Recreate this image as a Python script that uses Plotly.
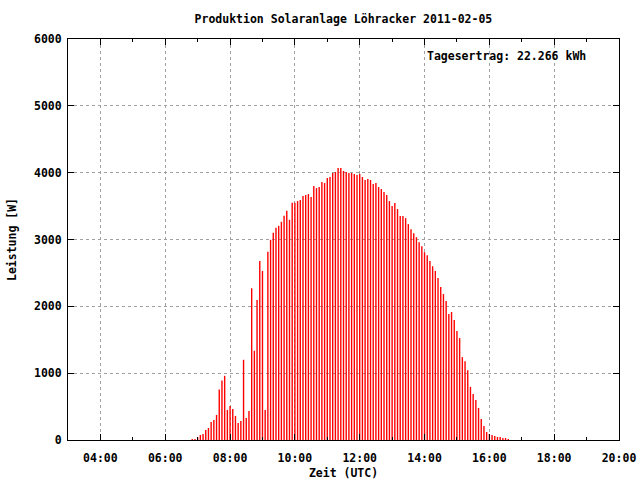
import plotly.graph_objects as go
import pandas as pd

day = "2011-02-05"
start_time = "06:50"
interval_min = 5
power_w = [
    15, 15, 45, 75, 90, 150, 180, 270, 300, 375,
    755, 890, 960, 450, 510, 465, 360, 255, 285, 1200,
    330, 435, 2270, 1335, 2095, 2680, 2530, 450, 2815, 2995,
    3100, 3175, 3205, 3265, 3355, 3430, 3295, 3550, 3550, 3575,
    3590, 3650, 3665, 3680, 3635, 3800, 3770, 3785, 3860, 3845,
    3920, 3935, 3995, 4010, 4070, 4070, 4025, 4010, 3995, 3995,
    3980, 3965, 3980, 3935, 3890, 3905, 3890, 3830, 3845, 3785,
    3755, 3710, 3665, 3575, 3500, 3545, 3455, 3350, 3350, 3320,
    3230, 3155, 3095, 3035, 2960, 2900, 2810, 2765, 2680, 2600,
    2530, 2425, 2290, 2185, 2080, 1885, 1915, 1795, 1630, 1525,
    1240, 1180, 1045, 795, 690, 600, 480, 315, 210, 120,
    90, 75, 60, 45, 45, 30, 30, 15,
]
x_tick_labels = ["04:00", "06:00", "08:00", "10:00", "12:00", "14:00", "16:00", "18:00", "20:00"]
y_ticks = [0, 1000, 2000, 3000, 4000, 5000, 6000]
title_text = "Produktion Solaranlage Löhracker 2011-02-05"
yield_label = "Tagesertrag: 22.266 kWh"
x_start, x_end = "03:00", "20:00"

times = pd.date_range(f"{day} {start_time}", periods=len(power_w), freq=f"{interval_min}min")
tickvals = [pd.Timestamp(f"{day} {t}") for t in x_tick_labels]

# impulses: vertical segment from 0 to value at each sample time
imp_x, imp_y = [], []
for t, v in zip(times, power_w):
    imp_x += [t, t, None]
    imp_y += [0, v, None]

FONT = "DejaVu Sans Mono"

fig = go.Figure()
fig.add_trace(go.Scatter(
    x=imp_x, y=imp_y, mode="lines",
    line=dict(color="#ff0000", width=1.4),
    showlegend=False, hoverinfo="skip",
))

fig.add_annotation(
    x=pd.Timestamp(f"{day} 14:00"), y=5750, xref="x", yref="y",
    text=yield_label, showarrow=False, xanchor="left", yanchor="middle",
    font=dict(family=FONT, size=11.5, color="black", weight="bold"),
)

axis_common = dict(
    showline=True, linecolor="black", linewidth=1, mirror="allticks",
    ticks="inside", tickcolor="black", ticklen=6,
    showgrid=True, gridcolor="#a0a0a0", gridwidth=1, griddash="3px,3px",
    zeroline=False, automargin=False,
    tickfont=dict(family=FONT, size=11.5, color="black", weight="bold"),
)

fig.update_xaxes(
    **axis_common,
    type="date",
    range=[pd.Timestamp(f"{day} {x_start}"), pd.Timestamp(f"{day} {x_end}")],
    tickvals=tickvals, ticktext=x_tick_labels,
    ticklabelstandoff=7,
    minor=dict(dtick=3600000, ticks="inside", ticklen=3, tickcolor="black", showgrid=False),
    title=dict(text="Zeit (UTC)", font=dict(family=FONT, size=11.5, color="black", weight="bold"), standoff=6),
)
fig.update_yaxes(
    **axis_common,
    range=[0, 6000],
    tickvals=y_ticks,
    ticklabelstandoff=3,
    title=dict(text="Leistung [W]", font=dict(family=FONT, size=11.5, color="black", weight="bold"), standoff=14),
)

fig.update_layout(
    width=640, height=480,
    margin=dict(l=68, r=21, t=39, b=40),
    paper_bgcolor="white", plot_bgcolor="white",
    title=dict(text=title_text, x=0.5366, xanchor="center", y=1 - 19 / 480, yanchor="middle",
               font=dict(family=FONT, size=11.5, color="black", weight="bold")),
)

fig.write_html("out.html", config={"displayModeBar": False},
               post_script="document.body.style.margin='0';")
